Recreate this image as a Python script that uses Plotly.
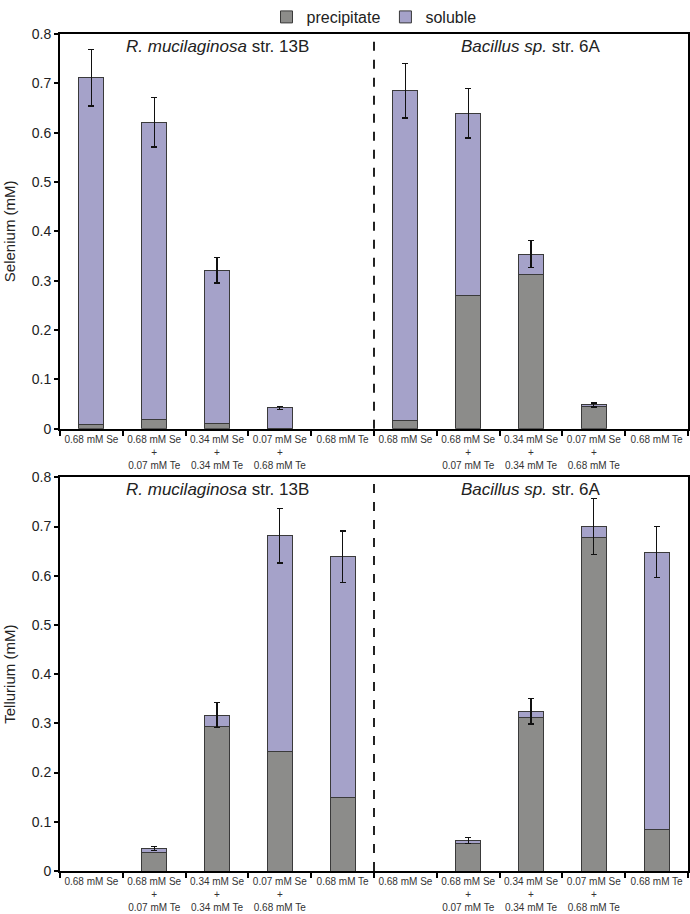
import numpy as np
import plotly.graph_objects as go
from plotly.subplots import make_subplots

conditions = ["0.68 mM Se", "0.68 mM Se<br>+<br>0.07 mM Te", "0.34 mM Se<br>+<br>0.34 mM Te",
              "0.07 mM Se<br>+<br>0.68 mM Te", "0.68 mM Te"]
strains = ["<i>R. mucilaginosa</i> str. 13B", "<i>Bacillus sp.</i> str. 6A"]

# Selenium (top panel), 5 conditions x 2 strains
se_precip = [0.009, 0.018, 0.011, 0.001, 0, 0.016, 0.270, 0.312, 0.044, 0]
se_soluble = [0.702, 0.603, 0.310, 0.041, 0, 0.669, 0.369, 0.042, 0.004, 0]
se_err = [0.057, 0.050, 0.026, 0.003, None, 0.055, 0.050, 0.028, 0.004, None]

# Tellurium (bottom panel)
te_precip = [0, 0.038, 0.293, 0.242, 0.150, 0, 0.055, 0.311, 0.678, 0.085]
te_soluble = [0, 0.008, 0.024, 0.439, 0.489, 0, 0.007, 0.014, 0.022, 0.563]
te_err = [None, 0.004, 0.026, 0.055, 0.052, None, 0.006, 0.026, 0.057, 0.052]

PREC_COL = "#8c8c8a"
SOL_COL = "#a5a2c9"
EDGE = "#3a3a3a"
FONT = "Liberation Sans, Arial, sans-serif"

xpos = list(range(len(conditions) * len(strains)))
ticktext = conditions * len(strains)

fig = make_subplots(rows=2, cols=1)

def nz(vals):
    return [v if v else None for v in vals]

def err_arr(e):
    return [np.nan if v is None else v for v in e]

for row, (pr, so, er) in enumerate([(se_precip, se_soluble, se_err), (te_precip, te_soluble, te_err)], start=1):
    fig.add_trace(go.Bar(x=xpos, y=nz(pr), name="precipitate", marker=dict(color=PREC_COL, line=dict(color=EDGE, width=1)),
                         width=0.4, showlegend=(row == 1), legendgroup="p"), row=row, col=1)
    fig.add_trace(go.Bar(x=xpos, y=nz(so), name="soluble", marker=dict(color=SOL_COL, line=dict(color=EDGE, width=1)),
                         width=0.4, showlegend=(row == 1), legendgroup="s",
                         error_y=dict(type="data", array=err_arr(er), visible=True, color="#111111", thickness=1.3, width=3)),
                  row=row, col=1)

T, B = 29, 43
H = 914 - T - B
Z2 = 914 - B  # zero line of bottom panel in px
layout_axes = {}
top_dom = [(Z2 - 426) / H, 1.0]
bot_dom = [0.0, (Z2 - 475) / H]
for i, (dom, title) in enumerate([(top_dom, "Selenium (mM)"), (bot_dom, "Tellurium (mM)")], start=1):
    sfx = "" if i == 1 else str(i)
    layout_axes["xaxis" + sfx] = dict(
        range=[-0.5, 9.5], tickvals=xpos, ticktext=ticktext, ticks="", showline=True, linecolor="black",
        linewidth=2, mirror=True, showgrid=False, zeroline=False, automargin=False,
        tickfont=dict(size=10, color="#333333", family=FONT),
        minor=dict(tickvals=[x + 0.5 for x in [-1] + xpos], ticks="outside", ticklen=5, tickcolor="black", tickwidth=2),
        fixedrange=True,
    )
    layout_axes["yaxis" + sfx] = dict(
        domain=dom, range=[0, 0.8], dtick=0.1, ticks="outside", ticklen=4, tickwidth=2, tickcolor="black",
        showline=True, linecolor="black", linewidth=2, mirror=True, showgrid=False, zeroline=False,
        automargin=False,
        tickfont=dict(size=14, color="#222222", family=FONT),
        title=dict(text=title, font=dict(size=15, color="#222222", family=FONT), standoff=12),
    )
fig.update_layout(**layout_axes)

# strain labels and divider
for i, ax in enumerate(["", "2"]):
    xr = "x" + ax
    yr = "y" + ax
    fig.add_shape(type="line", xref=xr, yref=yr + " domain", x0=4.5, x1=4.5, y0=0, y1=1,
                  line=dict(color="#222222", width=2, dash="dash"))
    for s, name in enumerate(strains):
        fig.add_annotation(x=2 + 5 * s, y=0.775, xref=xr, yref=yr, text=name, showarrow=False,
                           font=dict(size=17, color="#222222", family=FONT), yanchor="middle")

fig.update_layout(
    width=690, height=914, barmode="stack",
    margin=dict(l=60, r=2, t=T, b=B),
    plot_bgcolor="white", paper_bgcolor="white",
    font=dict(family=FONT, color="#222222"),
    legend=dict(orientation="h", x=0.5, xanchor="center", yref="container", y=1.0, yanchor="top",
                font=dict(size=16, color="#222222", family=FONT), traceorder="normal",
                itemwidth=30, bgcolor="rgba(0,0,0,0)"),
    bargap=0.6,
)

fig.write_html("out.html")
